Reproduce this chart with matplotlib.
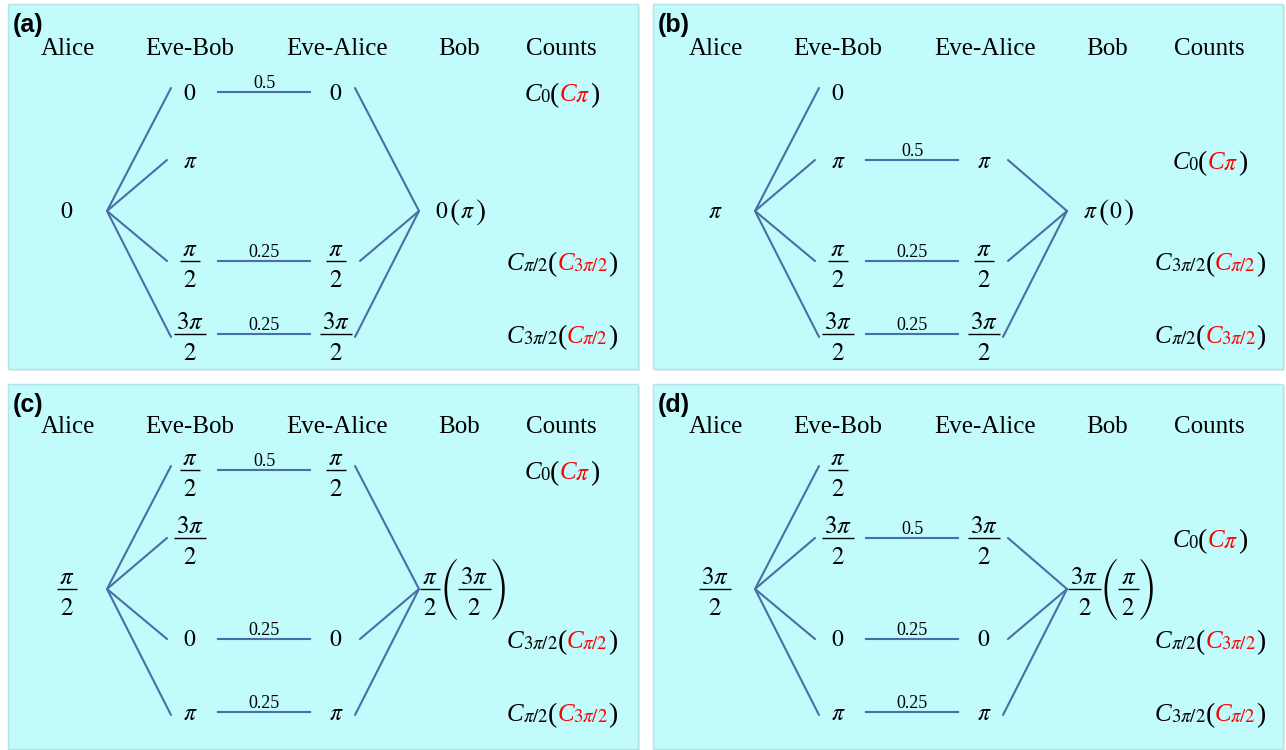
import matplotlib
matplotlib.use("Agg")
import matplotlib.pyplot as plt
from matplotlib.patches import Rectangle

plt.rcParams["mathtext.fontset"] = "stix"
SERIF = ["Liberation Serif", "DejaVu Serif"]
SANS = ["Liberation Sans", "DejaVu Sans"]
BIG_DELIM = ["STIXSizeFourSym", "DejaVu Serif"]

# ---------------------------------------------------------------- data
panel_tags = ["(a)", "(b)", "(c)", "(d)"]
headers = ["Alice", "Eve-Bob", "Eve-Alice", "Bob", "Counts"]

# phase chosen by Alice in each scenario
alice_phase = ["0", "pi", "pi/2", "3pi/2"]

# the four phases Eve may forward to Bob (one row each)
eve_bob_phases = [
    ["0", "pi", "pi/2", "3pi/2"],
    ["0", "pi", "pi/2", "3pi/2"],
    ["pi/2", "3pi/2", "0", "pi"],
    ["pi/2", "3pi/2", "0", "pi"],
]

# probability that the Eve-Bob phase is passed on to Alice (None: no branch)
forward_prob = [
    [0.5, None, 0.25, 0.25],
    [None, 0.5, 0.25, 0.25],
    [0.5, None, 0.25, 0.25],
    [None, 0.5, 0.25, 0.25],
]

# Bob's result: main value and the value given in brackets
bob_phase = [("0", "pi"), ("pi", "0"), ("pi/2", "3pi/2"), ("3pi/2", "pi/2")]

# detector counts per branch: black subscript and red (bracketed) subscript
counts_black = [
    ["0", "pi/2", "3pi/2"],
    ["0", "3pi/2", "pi/2"],
    ["0", "3pi/2", "pi/2"],
    ["0", "pi/2", "3pi/2"],
]
counts_red = [
    ["pi", "3pi/2", "pi/2"],
    ["pi", "pi/2", "3pi/2"],
    ["pi", "pi/2", "3pi/2"],
    ["pi", "3pi/2", "pi/2"],
]

# ---------------------------------------------------------------- layout
W, H = 1286, 750
PANEL_BG = "#C1FBFC"
PANEL_EDGE = "#B3E4E8"
LINE = "#4A6FA5"

panel_rects = [(8, 4), (653, 4), (8, 384), (653, 384)]
content_origin = [(8, 4), (656, 4), (8, 382), (656, 382)]
PANEL_W, PANEL_H = 630, 365

HEAD_Y = 51
HEAD_X = [60, 182, 329, 451, 553]
ALICE_X, FORK_X, MID_Y = 59, 99, 207
EB_X, EA_X = 182, 328
ROW_Y = [88, 156, 257, 330]
LINK_X0, LINK_X1 = 210, 302
NODE_X = 411
BOB_X = 452
COUNT_X = 554

fig = plt.figure(figsize=(W / 100, H / 100), dpi=100)
ax = fig.add_axes([0, 0, 1, 1])
ax.set_xlim(0, W)
ax.set_ylim(H, 0)
ax.axis("off")
renderer = fig.canvas.get_renderer()

SINGLE = {"0": r"$0$", "pi": r"$\pi$"}
NUMER = {"pi/2": r"$\pi$", "3pi/2": r"$3\pi$"}
SUB = {"0": "0", "pi": r"$\pi$", "pi/2": r"$\pi/2$", "3pi/2": r"$3\pi/2$"}
FRAC_SIZE = 18


def width_of(t):
    return t.get_window_extent(renderer).width


def fraction_width(p):
    t = ax.text(0, 0, NUMER[p], fontsize=FRAC_SIZE)
    w = width_of(t) + 5
    t.remove()
    return w


def phase_label(x, y, p, size=FRAC_SIZE):
    """Phase value centred at (x, y); fractions put their bar on y."""
    if p in NUMER:
        ax.text(x, y - 5, NUMER[p], fontsize=size, ha="center",
                va="baseline", color="black")
        ax.text(x, y + 26, r"$2$", fontsize=size, ha="center",
                va="baseline", color="black")
        w = fraction_width(p)
        ax.plot([x - w / 2, x + w / 2], [y, y], color="black", lw=1.0,
                solid_capstyle="butt")
    else:
        ax.text(x, y + 7.5, SINGLE[p], fontsize=size - 1, ha="center",
                va="baseline", color="black")


def text_run(x, y, pieces, ha="center"):
    """Lay out (text, size, colour, style, dy, gap) pieces on one baseline."""
    arts = []
    for s, size, color, style, dy, gap in pieces:
        t = ax.text(0, y + dy, s, fontsize=size, color=color, ha="left",
                    va="baseline", family=SERIF, fontstyle=style)
        arts.append((t, gap))
    widths = [width_of(t) for t, _ in arts]
    total = sum(widths) + sum(g for _, g in arts)
    cur = x - total / 2 if ha == "center" else x
    for (t, gap), w in zip(arts, widths):
        t.set_x(cur)
        cur += w + gap


def big_paren(x, y, ch):
    t = ax.text(x, y, ch, fontsize=14.5, family=BIG_DELIM, ha="left",
                va="center", color="black")
    return width_of(t)


for k in range(4):
    rx, ry = panel_rects[k]
    ax.add_patch(Rectangle((rx + 1.5, ry + 1.5), PANEL_W, PANEL_H,
                           facecolor="#E6ECEC", edgecolor="none", zorder=0))
    ax.add_patch(Rectangle((rx, ry), PANEL_W, PANEL_H, facecolor=PANEL_BG,
                           edgecolor=PANEL_EDGE, lw=1.0, zorder=0.5))
    ox, oy = content_origin[k]

    ax.text(rx + 5, ry + 9, panel_tags[k], fontsize=18, fontweight="bold",
            family=SANS, ha="left", va="top", color="black")
    for hx, name in zip(HEAD_X, headers):
        ax.text(ox + hx, oy + HEAD_Y, name, fontsize=18, family=SERIF,
                ha="center", va="baseline", color="black")

    # Alice
    phase_label(ox + ALICE_X, oy + MID_Y, alice_phase[k])

    fork = (ox + FORK_X, oy + MID_Y)
    node = (ox + NODE_X, oy + MID_Y)
    count_i = 0
    for r, p in enumerate(eve_bob_phases[k]):
        yr = oy + ROW_Y[r]
        outer = r in (0, 3)
        y_end = yr + (-4 if r == 0 else 3 if r == 3 else 0)
        lx = ox + (163 if outer else 159)
        ax.plot([fork[0], lx], [fork[1], y_end], color=LINE, lw=1.5,
                solid_capstyle="round")
        phase_label(ox + EB_X, yr, p)

        prob = forward_prob[k][r]
        if prob is None:
            continue
        ax.plot([ox + LINK_X0, ox + LINK_X1], [yr, yr], color=LINE, lw=1.5)
        ax.text(ox + (LINK_X0 + LINK_X1) / 2, yr - 4, f"{prob:g}",
                fontsize=13, family=SERIF, ha="center", va="baseline",
                color="black")
        phase_label(ox + EA_X, yr, p)
        rx0 = ox + (347 if outer else 352)
        ax.plot([rx0, node[0]], [y_end, node[1]], color=LINE, lw=1.5,
                solid_capstyle="round")

        # counts
        b = counts_black[k][count_i]
        rd = counts_red[k][count_i]
        count_i += 1
        text_run(ox + COUNT_X, yr + 9, [
            ("C", 18, "black", "italic", 0, -1),
            (SUB[b], 17 if b == "pi" else 13.5, "black", "normal", 1, 0),
            ("(", 20, "black", "normal", 1, 0),
            ("C", 18, "red", "italic", 0, -1),
            (SUB[rd], 17 if rd == "pi" else 13.5, "red", "normal", 1, 0),
            (")", 20, "black", "normal", 1, 0),
        ])

    # Bob
    main, alt = bob_phase[k]
    by = oy + MID_Y
    if main in NUMER:
        w_main = fraction_width(main)
        w_alt = fraction_width(alt)
        x = ox + NODE_X + 1
        phase_label(x + w_main / 2, by, main)
        x += w_main + 1
        x += big_paren(x, by, "(")
        phase_label(x + w_alt / 2, by, alt)
        x += w_alt
        big_paren(x, by, ")")
    else:
        text_run(ox + BOB_X, by + 7.5, [
            (SINGLE[main], 17, "black", "normal", 0, 1),
            (r"$($", 22, "black", "normal", 1, 0),
            (SINGLE[alt], 17, "black", "normal", 0, 0),
            (r"$)$", 22, "black", "normal", 1, 0),
        ])

fig.savefig("out.png", dpi=100, facecolor="white")
